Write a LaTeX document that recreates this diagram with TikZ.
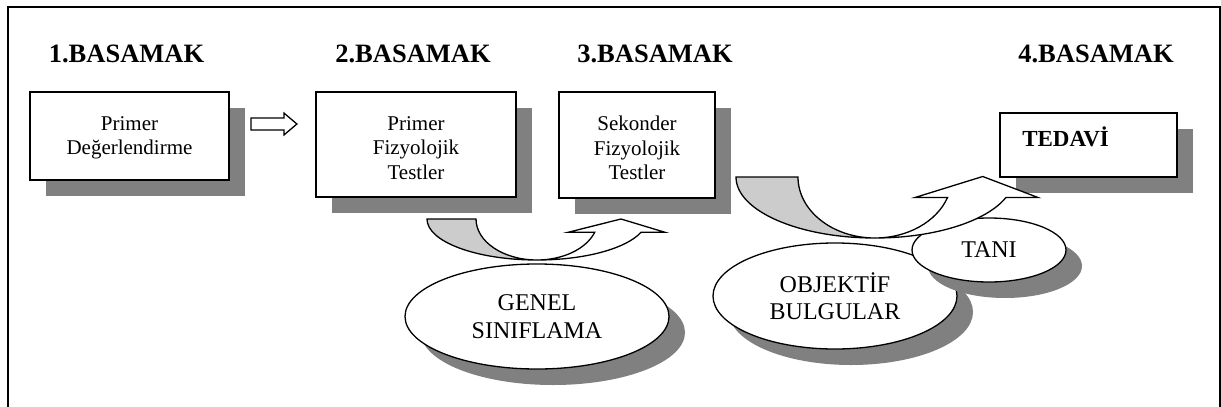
\documentclass[tikz,border=0pt]{standalone}
\usepackage{fontspec}
\setmainfont{Liberation Serif}
\usetikzlibrary{shapes.geometric,shadows}
\definecolor{sombra}{HTML}{808080}
\definecolor{banda}{HTML}{CCCCCC}
\tikzset{
  titulo/.style={anchor=base, font=\fontsize{26.5}{30}\selectfont\bfseries},
  caja/.style={draw, line width=1.8pt, fill=white, inner sep=0pt,
    drop shadow={shadow xshift=16pt, shadow yshift=-16pt, fill=sombra, opacity=1}},
  texto/.style={anchor=north, align=center, inner sep=0pt,
    font=\fontsize{21}{24.5}\selectfont},
  globo/.style={ellipse, draw, line width=1.3pt, fill=white, inner sep=0pt,
    align=center, font=\fontsize{24}{27.5}\selectfont,
    drop shadow={shadow xshift=16pt, shadow yshift=-16pt, fill=sombra, opacity=1}},
  flecha/.style={draw, line width=1.3pt, line join=miter},
}
\begin{document}
\begin{tikzpicture}[x=1pt,y=1pt]
\useasboundingbox (0,0) rectangle (1221,-407);
%
% marco
\draw[line width=1.2pt] (8,-407) -- (8,-7) -- (1220,-7) -- (1220,-407);
%
% basamaklar
\node[titulo] (1) at (126.5,-62) {1.BASAMAK};
\node[titulo] (2) at (413,-62) {2.BASAMAK};
\node[titulo] (3) at (655,-62) {3.BASAMAK};
\node[titulo] (4) at (1096,-62) {4.BASAMAK};
%
% cajas: centro, ancho, alto
\node[caja, minimum width=199pt, minimum height=88pt,
  label={[texto, yshift=-25pt]north:Primer\\Değerlendirme}] (5) at (129.5,-136) {};
\node[caja, minimum width=200pt, minimum height=105pt,
  label={[texto, yshift=-25pt]north:Primer\\Fizyolojik\\Testler}] (6) at (416,-144.5) {};
\node[caja, minimum width=156pt, minimum height=106pt,
  label={[texto, yshift=-25pt]north:Sekonder\\Fizyolojik\\Testler}] (7) at (637,-145) {};
\node[caja, minimum width=177pt, minimum height=64pt,
  label={[anchor=base west, shift={(23,-34)}, inner sep=0pt,
    font=\fontsize{23}{26}\selectfont\bfseries]north west:TEDAVİ}] (8) at (1088.5,-145) {};
%
% flecha de 5 a 6
\draw[flecha, fill=white] ([shift={(21,18)}]5.east) -- ++(33,0) -- ++(0,5)
  -- ++(13,-11) -- ++(-13,-11) -- ++(0,5) -- ++(-33,0) -- cycle;
%
% elipses
\node[globo, minimum width=264pt, minimum height=105pt] (9) at (537,-316.5) {GENEL\\SINIFLAMA};
\node[globo, minimum width=244pt, minimum height=106pt] (10) at (835,-296) {OBJEKTİF\\BULGULAR};
\node[globo, minimum width=154pt, minimum height=64pt] (11) at (989,-250) {TANI};
%
% flechas curvas: radio exterior, radio interior, radio vertical
\draw[flecha, fill=banda] (427,-219)
  arc[start angle=180, end angle=270, x radius=110, y radius=41]
  arc[start angle=270, end angle=180, x radius=61, y radius=41] -- cycle;
\draw[flecha, fill=white] (537,-260)
  arc[start angle=270, end angle=341.1, x radius=110, y radius=41]
  -- (665,-232.3) -- (621,-219) -- (568,-232.3) -- ([shift={(537,-219)}]341.1:61 and 41)
  arc[start angle=341.1, end angle=270, x radius=61, y radius=41] -- cycle;
%
\draw[flecha, fill=banda] (736,-177)
  arc[start angle=180, end angle=270, x radius=139, y radius=61]
  arc[start angle=270, end angle=180, x radius=77, y radius=61] -- cycle;
\draw[flecha, fill=white] (875,-238)
  arc[start angle=270, end angle=340.4, x radius=139, y radius=61]
  -- (1038,-197.5) -- (982.7,-176.5) -- (915,-197.5) -- ([shift={(875,-177)}]340.4:77 and 61)
  arc[start angle=340.4, end angle=270, x radius=77, y radius=61] -- cycle;
%
\end{tikzpicture}
\end{document}
